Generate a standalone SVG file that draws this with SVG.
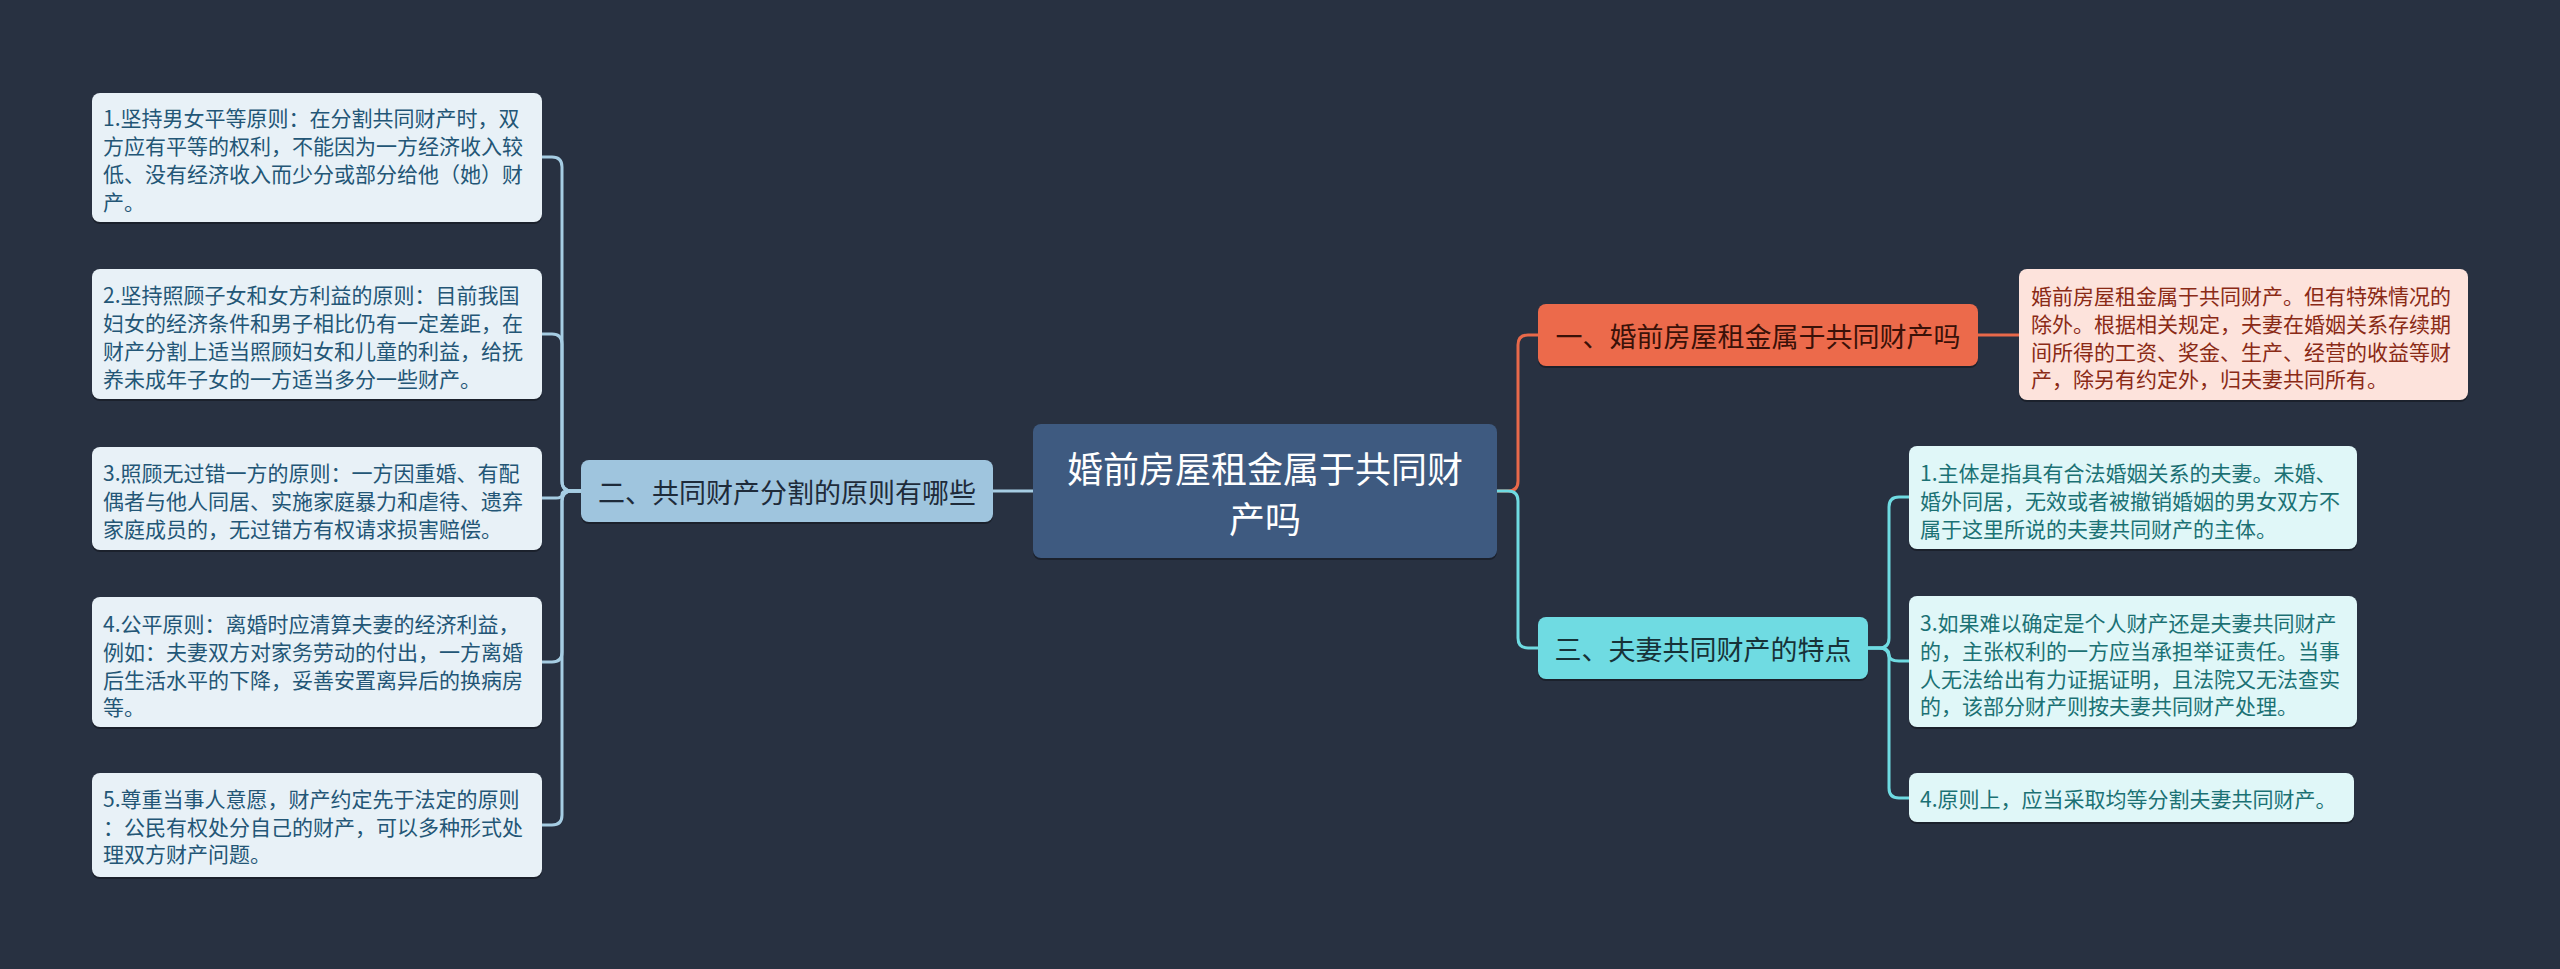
<svg xmlns="http://www.w3.org/2000/svg" width="2560" height="969" viewBox="0 0 2560 969">
<style>
text{font-family:"Noto Sans CJK SC","Noto Sans",sans-serif;}
.leaf{font-size:21px;dominant-baseline:central;}
.lb{fill:#e8f1f7;}
.lt{fill:#235676;}
.ob{fill:#fde3dc;}
.ot{fill:#8a2a16;}
.cb{fill:#e0f7f8;}
.ct{fill:#1b7174;}
.sh{fill:#1b212c;}
.br{font-size:27px;dominant-baseline:central;text-anchor:middle;}
.con{fill:none;stroke-width:3;stroke-linejoin:round;}
</style>
<rect width="2560" height="969" fill="#283141"/>
<g id="connectors">
<path class="con" stroke="#a6cde3" d="M1033 491 H993"/>
<path class="con" stroke="#a6cde3" d="M581 491 H572 Q562 491 562 481 V167 Q562 157 552 157 H542"/>
<path class="con" stroke="#a6cde3" d="M581 491 H572 Q562 491 562 481 V344 Q562 334 552 334 H542"/>
<path class="con" stroke="#a6cde3" d="M581 491 H568 Q562 491 562 494.5 Q562 498 556 498 H542"/>
<path class="con" stroke="#a6cde3" d="M581 491 H572 Q562 491 562 501 V652 Q562 662 552 662 H542"/>
<path class="con" stroke="#a6cde3" d="M581 491 H572 Q562 491 562 501 V815 Q562 825 552 825 H542"/>
<path class="con" stroke="#e8694a" d="M1497 491 H1508 Q1518 491 1518 481 V345 Q1518 335 1528 335 H1538"/>
<path class="con" stroke="#6fdbe2" d="M1497 491 H1508 Q1518 491 1518 501 V638 Q1518 648 1528 648 H1538"/>
<path class="con" stroke="#e8694a" d="M1978 335 H2019"/>
<path class="con" stroke="#6fdbe2" d="M1868 648 H1879 Q1889 648 1889 638 V507 Q1889 497 1899 497 H1909"/>
<path class="con" stroke="#6fdbe2" d="M1868 648 H1879 Q1889 648 1889 654.5 Q1889 661 1899 661 H1909"/>
<path class="con" stroke="#6fdbe2" d="M1868 648 H1879 Q1889 648 1889 658 V788 Q1889 798 1899 798 H1909"/>
</g>
<g id="root">
<rect class="sh" x="1033" y="426" width="464" height="134" rx="8"/>
<rect x="1033" y="424" width="464" height="134" rx="8" fill="#3e5a80"/>
<text x="1265" y="467" font-size="36" fill="#ffffff" text-anchor="middle" dominant-baseline="central">婚前房屋租金属于共同财</text>
<text x="1265" y="517" font-size="36" fill="#ffffff" text-anchor="middle" dominant-baseline="central">产吗</text>
</g>
<g id="branch2">
<rect class="sh" x="581" y="462" width="412" height="62" rx="8"/>
<rect x="581" y="460" width="412" height="62" rx="8" fill="#9fc5de"/>
<text class="br" x="787" y="491" fill="#1e2b3a">二、共同财产分割的原则有哪些</text>
</g>
<g id="branch1">
<rect class="sh" x="1538" y="306" width="440" height="62" rx="8"/>
<rect x="1538" y="304" width="440" height="62" rx="8" fill="#ec6a4b"/>
<text class="br" x="1758" y="335" fill="#3a1108">一、婚前房屋租金属于共同财产吗</text>
</g>
<g id="branch3">
<rect class="sh" x="1538" y="619" width="330" height="62" rx="8"/>
<rect x="1538" y="617" width="330" height="62" rx="8" fill="#6fdbe2"/>
<text class="br" x="1703" y="648" fill="#173238">三、夫妻共同财产的特点</text>
</g>
<g id="l1">
<rect class="sh" x="92" y="95" width="450" height="129" rx="8"/>
<rect class="lb" x="92" y="93" width="450" height="129" rx="8"/>
<text class="leaf lt" x="103" y="117">1.坚持男女平等原则：在分割共同财产时，双</text>
<text class="leaf lt" x="103" y="145">方应有平等的权利，不能因为一方经济收入较</text>
<text class="leaf lt" x="103" y="173">低、没有经济收入而少分或部分给他（她）财</text>
<text class="leaf lt" x="103" y="201">产。</text>
</g>
<g id="l2">
<rect class="sh" x="92" y="271" width="450" height="130" rx="8"/>
<rect class="lb" x="92" y="269" width="450" height="130" rx="8"/>
<text class="leaf lt" x="103" y="294">2.坚持照顾子女和女方利益的原则：目前我国</text>
<text class="leaf lt" x="103" y="322">妇女的经济条件和男子相比仍有一定差距，在</text>
<text class="leaf lt" x="103" y="350">财产分割上适当照顾妇女和儿童的利益，给抚</text>
<text class="leaf lt" x="103" y="378">养未成年子女的一方适当多分一些财产。</text>
</g>
<g id="l3">
<rect class="sh" x="92" y="449" width="450" height="103" rx="8"/>
<rect class="lb" x="92" y="447" width="450" height="103" rx="8"/>
<text class="leaf lt" x="103" y="472">3.照顾无过错一方的原则：一方因重婚、有配</text>
<text class="leaf lt" x="103" y="500">偶者与他人同居、实施家庭暴力和虐待、遗弃</text>
<text class="leaf lt" x="103" y="528">家庭成员的，无过错方有权请求损害赔偿。</text>
</g>
<g id="l4">
<rect class="sh" x="92" y="599" width="450" height="130" rx="8"/>
<rect class="lb" x="92" y="597" width="450" height="130" rx="8"/>
<text class="leaf lt" x="103" y="623">4.公平原则：离婚时应清算夫妻的经济利益，</text>
<text class="leaf lt" x="103" y="651">例如：夫妻双方对家务劳动的付出，一方离婚</text>
<text class="leaf lt" x="103" y="679">后生活水平的下降，妥善安置离异后的换病房</text>
<text class="leaf lt" x="103" y="706">等。</text>
</g>
<g id="l5">
<rect class="sh" x="92" y="775" width="450" height="104" rx="8"/>
<rect class="lb" x="92" y="773" width="450" height="104" rx="8"/>
<text class="leaf lt" x="103" y="798">5.尊重当事人意愿，财产约定先于法定的原则</text>
<text class="leaf lt" x="103" y="826">：公民有权处分自己的财产，可以多种形式处</text>
<text class="leaf lt" x="103" y="853">理双方财产问题。</text>
</g>
<g id="o1">
<rect class="sh" x="2019" y="271" width="449" height="131" rx="8"/>
<rect class="ob" x="2019" y="269" width="449" height="131" rx="8"/>
<text class="leaf ot" x="2031" y="295">婚前房屋租金属于共同财产。但有特殊情况的</text>
<text class="leaf ot" x="2031" y="323">除外。根据相关规定，夫妻在婚姻关系存续期</text>
<text class="leaf ot" x="2031" y="351">间所得的工资、奖金、生产、经营的收益等财</text>
<text class="leaf ot" x="2031" y="378">产，除另有约定外，归夫妻共同所有。</text>
</g>
<g id="c1">
<rect class="sh" x="1909" y="448" width="448" height="103" rx="8"/>
<rect class="cb" x="1909" y="446" width="448" height="103" rx="8"/>
<text class="leaf ct" x="1920" y="472">1.主体是指具有合法婚姻关系的夫妻。未婚、</text>
<text class="leaf ct" x="1920" y="500">婚外同居，无效或者被撤销婚姻的男女双方不</text>
<text class="leaf ct" x="1920" y="528">属于这里所说的夫妻共同财产的主体。</text>
</g>
<g id="c3">
<rect class="sh" x="1909" y="598" width="448" height="131" rx="8"/>
<rect class="cb" x="1909" y="596" width="448" height="131" rx="8"/>
<text class="leaf ct" x="1920" y="622">3.如果难以确定是个人财产还是夫妻共同财产</text>
<text class="leaf ct" x="1920" y="650">的，主张权利的一方应当承担举证责任。当事</text>
<text class="leaf ct" x="1920" y="678">人无法给出有力证据证明，且法院又无法查实</text>
<text class="leaf ct" x="1920" y="705">的，该部分财产则按夫妻共同财产处理。</text>
</g>
<g id="c4">
<rect class="sh" x="1909" y="775" width="445" height="49" rx="8"/>
<rect class="cb" x="1909" y="773" width="445" height="49" rx="8"/>
<text class="leaf ct" x="1920" y="798">4.原则上，应当采取均等分割夫妻共同财产。</text>
</g>
</svg>
